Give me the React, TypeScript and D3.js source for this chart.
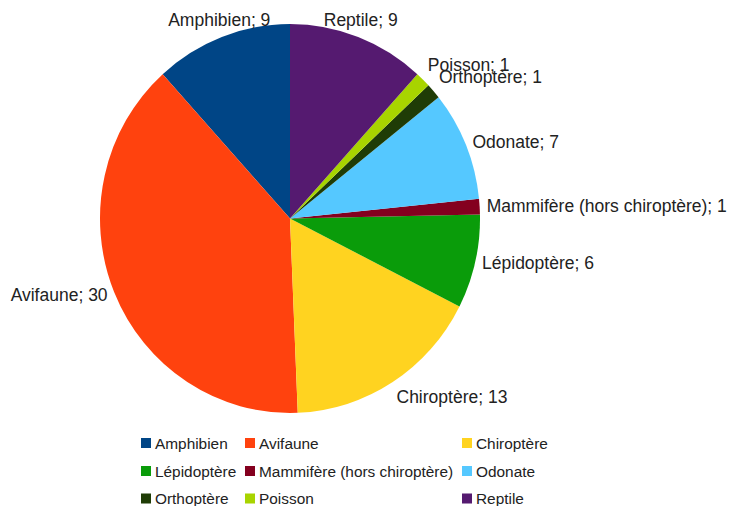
import * as d3 from 'd3'

const categories = [
  'Amphibien',
  'Avifaune',
  'Chiroptère',
  'Lépidoptère',
  'Mammifère (hors chiroptère)',
  'Odonate',
  'Orthoptère',
  'Poisson',
  'Reptile',
]
const counts = [9, 30, 13, 6, 1, 7, 1, 1, 9]
const colors = [
  '#004586',
  '#ff420e',
  '#ffd320',
  '#0a9c0a',
  '#84001f',
  '#55c8ff',
  '#1f3c06',
  '#a8d400',
  '#551a70',
]

const W = 741
const H = 506
const cx = 290
const cy = 218.5
const rx = 190
const ry = 194.5
const labelGap = 7
const font = '"Liberation Sans", Arial, sans-serif'

// legend layout: 3 columns, row by row
const legendCols = [141, 245, 462]
const legendRows = [443, 471, 498.5]

export default function App() {
  const data = categories.map((c, i) => ({ name: c, value: counts[i], color: colors[i] }))

  // LibreOffice draws counter-clockwise from 12 o'clock
  const pie = d3
    .pie<{ name: string; value: number; color: string }>()
    .sort(null)
    .value((d) => d.value)
    .startAngle(0)
    .endAngle(-2 * Math.PI)

  const arcs = pie(data)
  const arc = d3.arc<d3.PieArcDatum<{ name: string; value: number; color: string }>>()
    .innerRadius(0)
    .outerRadius(rx)

  const labels = arcs.map((a) => {
    const mid = (a.startAngle + a.endAngle) / 2
    const s = Math.sin(mid)
    const c = Math.cos(mid)
    const x = cx + (rx + labelGap) * s
    const y = cy - (ry + labelGap) * c
    const anchor = s > 0.4 ? 'start' : s < -0.4 ? 'end' : 'middle'
    const by = c > 0.5 ? y - 4 : c < -0.5 ? y + 15 : y + 6
    return { x, y: by, anchor, text: `${a.data.name}; ${a.data.value}` }
  })

  return (
    <svg
      width={W}
      height={H}
      style={{ position: 'absolute', left: 0, top: 0, background: '#fff' }}
    >
      <rect width={W} height={H} fill="#fff" />
      <g transform={`translate(${cx},${cy}) scale(1,${ry / rx})`}>
        {arcs.map((a, i) => (
          <path key={i} d={arc(a) ?? ''} fill={a.data.color} />
        ))}
      </g>
      <g fontFamily={font} fontSize={17.5} fill="#222">
        {labels.map((l, i) => (
          <text key={i} x={l.x} y={l.y} textAnchor={l.anchor}>
            {l.text}
          </text>
        ))}
      </g>
      <g fontFamily={font} fontSize={15.4} fill="#222">
        {data.map((d, i) => {
          const lx = legendCols[i % 3]
          const ly = legendRows[Math.floor(i / 3)]
          return (
            <g key={i}>
              <rect x={lx} y={ly - 5} width={10} height={10} fill={d.color} />
              <text x={lx + 14} y={ly + 5.5}>
                {d.name}
              </text>
            </g>
          )
        })}
      </g>
    </svg>
  )
}
